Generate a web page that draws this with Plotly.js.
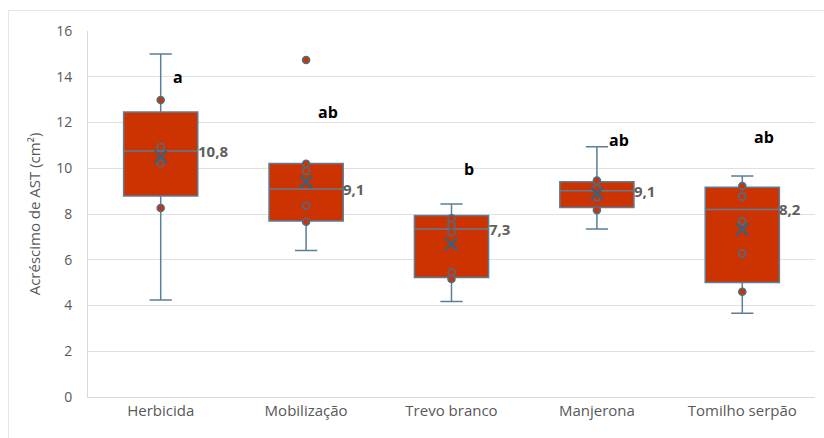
<!DOCTYPE html>
<html>
<head>
<meta charset="utf-8">
<script src="https://cdn.plot.ly/plotly-3.0.1.min.js"></script>
<style>
html,body{margin:0;padding:0;background:#fff;}
#frame{position:absolute;left:8px;top:10px;width:830px;height:440px;border-top:1.5px solid #e6e6e6;border-left:1.5px solid #e6e6e6;pointer-events:none;}
#chart{width:824px;height:438px;}
</style>
</head>
<body>
<div id="chart"></div>
<div id="frame"></div>
<script>
// ---- data ----
var categories = ['Herbicida', 'Mobilização', 'Trevo branco', 'Manjerona', 'Tomilho serpão'];
var q1Values = [8.79, 7.69, 5.22, 8.28, 5.01];
var medianValues = [10.75, 9.09, 7.34, 9.02, 8.20];
var q3Values = [12.46, 10.21, 7.93, 9.41, 9.17];
var lowerWhisker = [4.24, 6.40, 4.17, 7.34, 3.66];
var upperWhisker = [15.0, 10.21, 8.44, 10.94, 9.66];
var meanValues = [10.5, 9.41, 6.68, 8.90, 7.33];

var pointsHerbicida = [12.98, 10.93, 10.22, 8.26];
var pointsMobilizacao = [14.73, 10.2, 9.88, 8.36, 7.66];
var pointsTrevo = [7.81, 7.52, 7.20, 5.45, 5.16];
var pointsManjerona = [9.46, 9.12, 8.73, 8.17];
var pointsTomilho = [9.22, 8.76, 7.69, 6.28, 4.60];

var medianLabels = ['10,8', '9,1', '7,3', '9,1', '8,2'];
var groupLetters = ['a', 'ab', 'b', 'ab', 'ab'];
var letterY = [14.0, 12.46, 9.97, 11.23, 11.37];

// ---- build traces ----
var allPoints = [pointsHerbicida, pointsMobilizacao, pointsTrevo, pointsManjerona, pointsTomilho];
var ptX = [], ptY = [];
allPoints.forEach(function (arr, i) {
  arr.forEach(function (v) { ptX.push(categories[i]); ptY.push(v); });
});

var boxColor = '#cc3300';
var lineColor = '#5b7f96';
var fontFam = '"Open Sans", sans-serif';

var boxTrace = {
  type: 'box',
  x: categories,
  q1: q1Values,
  median: medianValues,
  q3: q3Values,
  lowerfence: lowerWhisker,
  upperfence: upperWhisker,
  fillcolor: boxColor,
  line: {color: lineColor, width: 1.5},
  width: 0.51,
  whiskerwidth: 0.3,
  boxpoints: false,
  hoverinfo: 'skip',
  showlegend: false
};

var pointTrace = {
  type: 'scatter',
  mode: 'markers',
  x: ptX,
  y: ptY,
  marker: {symbol: 'circle', size: 7, color: boxColor, line: {color: '#4a6f86', width: 1.6}},
  showlegend: false,
  hoverinfo: 'skip'
};

var meanTrace = {
  type: 'scatter',
  mode: 'markers',
  x: categories,
  y: meanValues,
  marker: {symbol: 'x-thin-open', size: 12, color: '#3d5f78', line: {color: '#3d5f78', width: 2.6}},
  showlegend: false,
  hoverinfo: 'skip'
};

var annotations = [];
categories.forEach(function (c, i) {
  annotations.push({
    x: c, y: medianValues[i], xref: 'x', yref: 'y',
    text: '<b>' + medianLabels[i] + '</b>', showarrow: false,
    xanchor: 'left', yanchor: 'middle', xshift: 35,
    font: {family: fontFam, size: 15, color: '#5f5f5f'}
  });
  annotations.push({
    x: c, y: letterY[i], xref: 'x', yref: 'y',
    text: '<b>' + groupLetters[i] + '</b>', showarrow: false,
    xanchor: 'left', yanchor: 'middle', xshift: 10,
    font: {family: fontFam, size: 16, color: '#000000'}
  });
});

var layout = {
  width: 824,
  height: 438,
  margin: {l: 88, r: 9, t: 31, b: 41},
  paper_bgcolor: '#ffffff',
  plot_bgcolor: '#ffffff',
  font: {family: fontFam, color: '#595959', size: 14},
  showlegend: false,
  xaxis: {
    type: 'category',
    range: [-0.5, 4.5],
    showgrid: false,
    showline: true,
    linecolor: '#d9d9d9',
    linewidth: 1,
    ticks: '',
    tickfont: {size: 15, color: '#595959'},
    fixedrange: true
  },
  yaxis: {
    range: [0, 16],
    dtick: 2,
    showgrid: true,
    gridcolor: '#e0e0e0',
    gridwidth: 1,
    zeroline: false,
    showline: true,
    linecolor: '#d9d9d9',
    ticks: '',
    ticklabelstandoff: 12,
    tickfont: {size: 14, color: '#595959'},
    title: {text: 'Acréscimo de AST (cm²)', font: {size: 15, color: '#595959'}, standoff: 11},
    fixedrange: true
  },
  annotations: annotations
};

Plotly.newPlot('chart', [boxTrace, pointTrace, meanTrace], layout, {displayModeBar: false, staticPlot: true});
</script>
</body>
</html>
